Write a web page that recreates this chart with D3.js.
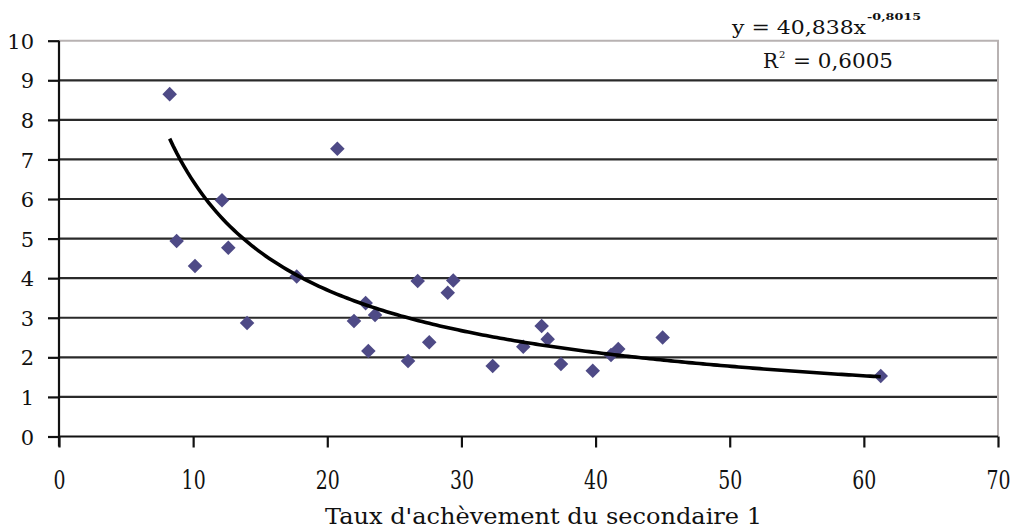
<!DOCTYPE html>
<html>
<head>
<meta charset="utf-8">
<script src="https://cdn.jsdelivr.net/npm/d3@7"></script>
<style>
  html, body { margin: 0; padding: 0; background: #fff; }
  svg { display: block; }
  text { font-family: "DejaVu Serif", "Liberation Serif", serif; fill: #111; }
</style>
</head>
<body>
<svg id="chart" width="1014" height="531"></svg>
<script>
// Secondary-1 completion rate (x) vs. indicator value (y)
const completionRate = [8.25, 8.77, 10.14, 12.15, 12.62, 14.02, 17.72, 20.75, 21.99, 22.86,
                        23.06, 23.56, 26.02, 26.74, 27.6, 28.98, 29.39, 32.33, 34.61, 35.98,
                        36.43, 37.42, 39.79, 41.15, 41.69, 45.0, 61.26];
const indicator      = [8.65, 4.94, 4.31, 5.97, 4.77, 2.87, 4.04, 7.27, 2.92, 3.37,
                        2.16, 3.07, 1.91, 3.93, 2.38, 3.63, 3.94, 1.78, 2.27, 2.79,
                        2.46, 1.83, 1.66, 2.06, 2.21, 2.50, 1.53];

// Power trend line y = a * x^b
const trendCoef = 40.838;
const trendExp  = -0.8015;

const xTicks = [0, 10, 20, 30, 40, 50, 60, 70];
const yTicks = [0, 1, 2, 3, 4, 5, 6, 7, 8, 9, 10];
const xTitle = "Taux d'achèvement du secondaire 1";

const FONT = '"DejaVu Serif", "Liberation Serif", serif';
const svg = d3.select("#chart");

const x = d3.scaleLinear().domain([0, 70]).range([59, 998]);
const y = d3.scaleLinear().domain([0, 10]).range([436.5, 40.7]);

// horizontal gridlines
svg.append("g")
  .selectAll("line")
  .data(yTicks.filter(d => d > 0 && d < 10))
  .join("line")
  .attr("x1", x(0)).attr("x2", x(70))
  .attr("y1", d => y(d)).attr("y2", d => y(d))
  .attr("stroke", "#2a2a2a").attr("stroke-width", 2.2);

// plot area border (top and right)
svg.append("path")
  .attr("d", `M${x(0)},${y(10)}H${x(70)}V${y(0)}`)
  .attr("fill", "none").attr("stroke", "#b8b2b2").attr("stroke-width", 2);

// y axis
const yAxis = d3.axisLeft(y).tickValues(yTicks).tickSize(11).tickPadding(14)
  .tickFormat(d3.format("d"));
const gy = svg.append("g").attr("transform", `translate(${x(0)},0)`).call(yAxis);
gy.attr("font-family", null);
gy.select(".domain").attr("stroke", "#111").attr("stroke-width", 2.2)
  .attr("d", `M0,${y(10)}V${y(0) + 10}`);
gy.selectAll(".tick line").attr("stroke", "#111").attr("stroke-width", 2.2);
gy.selectAll(".tick text").style("font-family", FONT).style("font-size", "21px")
  .attr("fill", "#111").attr("dy", "0.36em");

// x axis
const xAxis = d3.axisBottom(x).tickValues(xTicks).tickSize(11).tickPadding(16)
  .tickFormat(d3.format("d"));
const gx = svg.append("g").attr("transform", `translate(0,${y(0)})`).call(xAxis);
gx.attr("font-family", null);
gx.select(".domain").attr("stroke", "#111").attr("stroke-width", 2.2)
  .attr("d", `M${x(0)},0H${x(70)}`);
gx.selectAll(".tick line").attr("stroke", "#111").attr("stroke-width", 2.2);
gx.selectAll(".tick text").style("font-family", FONT).style("font-size", "21px")
  .attr("fill", "#111").attr("dy", "0.71em")
  .attr("transform", "scale(0.9,1.25)");

// axis title
svg.append("text")
  .attr("x", 325).attr("y", 524)
  .style("font-family", FONT).style("font-size", "22px")
  .attr("textLength", 437).attr("lengthAdjust", "spacingAndGlyphs")
  .text(xTitle);

// data markers (diamonds)
const pts = completionRate.map((v, i) => [v, indicator[i]]);
svg.append("g")
  .selectAll("path")
  .data(pts)
  .join("path")
  .attr("d", d3.symbol().type(d3.symbolDiamond2).size(135))
  .attr("transform", d => `translate(${x(d[0])},${y(d[1])})`)
  .attr("fill", "#4e4a86");

// trend curve over the observed range
const xMin = d3.min(completionRate), xMax = d3.max(completionRate);
const curvePts = d3.range(0, 201).map(i => {
  const xv = xMin + (xMax - xMin) * i / 200;
  return [xv, trendCoef * Math.pow(xv, trendExp)];
});
svg.append("path")
  .datum(curvePts)
  .attr("fill", "none").attr("stroke", "#000").attr("stroke-width", 3.6)
  .attr("d", d3.line().x(d => x(d[0])).y(d => y(d[1])));

// trend equation and fit
svg.append("text").attr("x", 732).attr("y", 34)
  .style("font-family", FONT).style("font-size", "19px")
  .attr("textLength", 134).attr("lengthAdjust", "spacingAndGlyphs")
  .text("y = 40,838x");
svg.append("text").attr("x", 867).attr("y", 20)
  .style("font-family", FONT).style("font-size", "10px").style("font-weight", "bold")
  .attr("textLength", 54).attr("lengthAdjust", "spacingAndGlyphs")
  .text("-0,8015");

svg.append("text").attr("x", 763).attr("y", 68)
  .style("font-family", FONT).style("font-size", "21px")
  .attr("textLength", 15).attr("lengthAdjust", "spacingAndGlyphs").text("R");
svg.append("text").attr("x", 779).attr("y", 58)
  .style("font-family", FONT).style("font-size", "10px").text("2");
svg.append("text").attr("x", 793).attr("y", 68)
  .style("font-family", FONT).style("font-size", "21px")
  .attr("textLength", 100).attr("lengthAdjust", "spacingAndGlyphs").text("= 0,6005");
</script>
</body>
</html>
